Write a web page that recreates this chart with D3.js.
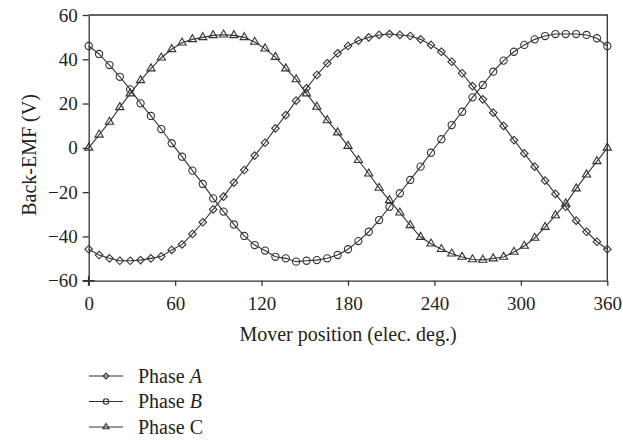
<!DOCTYPE html>
<html>
<head>
<meta charset="utf-8">
<script src="https://cdn.jsdelivr.net/npm/d3@7"></script>
<style>
  html, body { margin: 0; padding: 0; background: #fff; }
  svg { display: block; }
  text { font-family: "Liberation Serif", "Times New Roman", serif; fill: #231f20; }
</style>
</head>
<body>
<svg id="chart" width="623" height="440"></svg>
<script>
// Mover position in electrical degrees
const position = [0, 7.2, 14.4, 21.6, 28.8, 36, 43.2, 50.4, 57.6, 64.8, 72, 79.2, 86.4,
  93.6, 100.8, 108, 115.2, 122.4, 129.6, 136.8, 144, 151.2, 158.4, 165.6, 172.8, 180,
  187.2, 194.4, 201.6, 208.8, 216, 223.2, 230.4, 237.6, 244.8, 252, 259.2, 266.4,
  273.6, 280.8, 288, 295.2, 302.4, 309.6, 316.8, 324, 331.2, 338.4, 345.6, 352.8, 360];

// Back-EMF of each phase (V)
const phaseA = [-45.8, -48.4, -49.9, -51.0, -51.0, -50.7, -49.9, -49.0, -46.1, -43.6, -38.9, -33.6, -27.8,
  -22.0, -15.7, -10.0, -3.5, 2.3, 8.8, 14.8, 21.3, 26.9, 32.9, 38.2, 42.7, 46.0,
  48.4, 49.9, 51.0, 51.4, 51.0, 50.5, 49.0, 46.5, 43.4, 38.9, 33.7, 27.9,
  21.9, 15.9, 9.9, 3.5, -2.5, -8.5, -14.8, -20.8, -26.6, -32.9, -37.9, -42.4, -45.8];

const phaseB = [46.0, 42.4, 37.4, 32.1, 26.4, 20.1, 14.4, 8.5, 2.1, -4.0, -10.3, -16.3, -22.8,
  -28.8, -34.6, -39.8, -43.9, -46.4, -49.2, -49.9, -51.4, -51.0, -50.7, -49.9, -48.4, -45.8,
  -42.1, -37.9, -32.6, -26.6, -20.5, -14.5, -8.5, -2.2, 3.9, 10.3, 16.3, 22.8,
  28.4, 34.4, 39.4, 43.4, 46.5, 49.0, 50.5, 51.4, 51.4, 51.4, 51.0, 49.5, 46.0];

const phaseC = [0.0, 5.9, 11.7, 18.3, 24.5, 30.5, 35.8, 40.7, 44.5, 47.5, 49.0, 49.9, 50.8,
  51.1, 50.8, 49.9, 47.8, 44.8, 41.0, 35.8, 30.9, 24.5, 18.5, 12.4, 6.9, 0.8,
  -5.6, -11.7, -18.1, -23.7, -29.3, -35.0, -40.3, -43.3, -45.8, -47.8, -49.3, -50.4,
  -50.6, -50.0, -49.3, -47.0, -44.3, -40.7, -35.8, -30.5, -25.2, -18.4, -12.1, -6.1, 0.0];

const xTicks = [0, 60, 120, 180, 240, 300, 360];
const yTicks = [-60, -40, -20, 0, 20, 40, 60];

const seriesNames = ["A", "B", "C"];
const seriesItalic = [true, true, false];

const ink = "#333";
const plot = { left: 88.7, right: 607.3, top: 15, bottom: 280.7 };

const svg = d3.select("#chart");

const x = d3.scaleLinear().domain([0, 360]).range([plot.left, plot.right]);
const y = d3.scaleLinear().domain([-60, 60]).range([plot.bottom, plot.top]);

// Marker shapes: diamond, circle, triangle (hollow); k scales the shape
const markerPath = [
  (k) => { const s = 3.8 * k; return `M0,${-s}L${s},0L0,${s}L${-s},0Z`; },
  (k) => { const s = 3.6 * k; return `M${s},0A${s},${s} 0 1,1 ${-s},0A${s},${s} 0 1,1 ${s},0Z`; },
  (k) => `M0,${-4.7 * k}L${4.1 * k},${2.3 * k}L${-4.1 * k},${2.3 * k}Z`
];

// Frame (top and right edges)
svg.append("path")
  .attr("d", `M${plot.left},${plot.top}H${plot.right}V${plot.bottom}`)
  .attr("fill", "none").attr("stroke", ink).attr("stroke-width", 1.3);

// Axes
const fmt = d3.format("");
const xAxis = svg.append("g")
  .attr("transform", `translate(0,${plot.bottom})`)
  .call(d3.axisBottom(x).tickValues(xTicks).tickFormat(fmt).tickSize(5).tickSizeOuter(0).tickPadding(11));
const yAxis = svg.append("g")
  .attr("transform", `translate(${plot.left},0)`)
  .call(d3.axisLeft(y).tickValues(yTicks).tickSize(6).tickSizeOuter(0).tickPadding(5));

[xAxis, yAxis].forEach(g => {
  g.select(".domain").attr("stroke", ink).attr("stroke-width", 1.3);
  g.selectAll(".tick line").attr("stroke", ink).attr("stroke-width", 1.3);
  g.selectAll(".tick text").attr("font-size", 19).attr("fill", "#231f20")
    .style("font-family", '"Liberation Serif", serif');
});

// Corner tick crossing
svg.append("path")
  .attr("d", `M${plot.left},${plot.bottom - 5}V${plot.bottom + 5}M${plot.left - 6},${plot.bottom}H${plot.left + 6}`)
  .attr("stroke", ink).attr("stroke-width", 1.6);

// Axis titles
svg.append("text")
  .attr("x", (plot.left + plot.right) / 2).attr("y", 340.7)
  .attr("text-anchor", "middle").attr("font-size", 20)
  .text("Mover position (elec. deg.)");

svg.append("text")
  .attr("transform", "translate(36,155) rotate(-90)")
  .attr("text-anchor", "middle").attr("font-size", 20)
  .text("Back-EMF (V)");

// Curves
const series = [phaseA, phaseB, phaseC];
const line = d3.line().x(d => x(d[0])).y(d => y(d[1]));

series.forEach((vals, i) => {
  const pts = position.map((p, k) => [p, vals[k]]);
  const g = svg.append("g");
  g.append("path").datum(pts)
    .attr("d", line)
    .attr("fill", "none").attr("stroke", ink).attr("stroke-width", 1.1);
  g.selectAll("path.m").data(pts).join("path")
    .attr("class", "m")
    .attr("transform", d => `translate(${x(d[0])},${y(d[1])})`)
    .attr("d", markerPath[i](1))
    .attr("fill", "none").attr("stroke", ink).attr("stroke-width", 1.1);
});

// Legend
const legendRows = [376, 401.5, 427];
seriesNames.forEach((name, i) => {
  const cy = legendRows[i];
  const g = svg.append("g");
  g.append("line").attr("x1", 89).attr("x2", 123).attr("y1", cy).attr("y2", cy)
    .attr("stroke", ink).attr("stroke-width", 1.1);
  g.append("path").attr("transform", `translate(106,${cy})`)
    .attr("d", markerPath[i](0.75))
    .attr("fill", "none").attr("stroke", ink).attr("stroke-width", 1.1);
  const t = g.append("text").attr("x", 138).attr("y", cy + 6.5).attr("font-size", 20);
  t.append("tspan").text("Phase ");
  t.append("tspan").attr("font-style", seriesItalic[i] ? "italic" : "normal").text(name);
});
</script>
</body>
</html>
